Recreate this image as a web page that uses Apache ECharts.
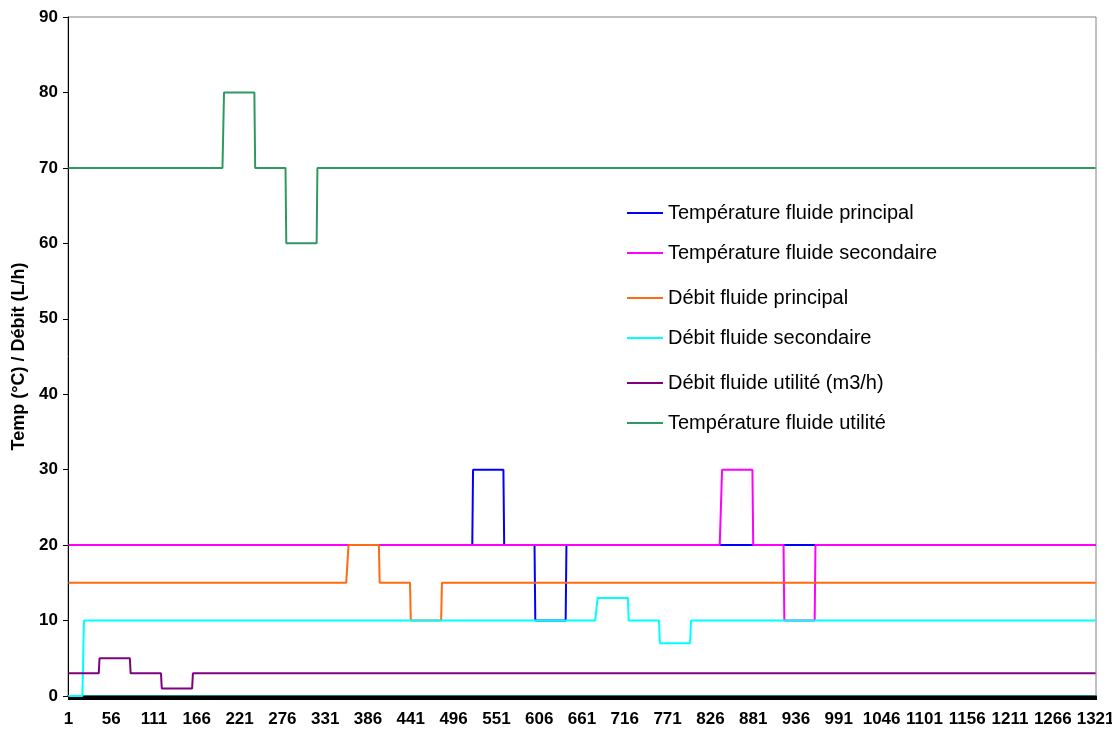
<!DOCTYPE html>
<html>
<head>
<meta charset="utf-8">
<script src="https://cdn.jsdelivr.net/npm/echarts@6/dist/echarts.min.js"></script>
<style>
html,body{margin:0;padding:0;background:#fff;}
#chart{width:1112px;height:731px;}
</style>
</head>
<body>
<div id="chart"></div>
<script>
// Number of categories on the x axis (1 .. 1321)
const categoryCount = 1321;
// Tick labels shown every 55 categories: 1, 56, 111, ... 1321

// Series values as runs: [first category, value] (value holds until next run)
const tempFluidePrincipal   = [[1,20],[521,30],[561,20],[601,10],[641,20]];
const tempFluideSecondaire  = [[1,20],[841,30],[881,20],[921,10],[961,20]];
const debitFluidePrincipal  = [[1,15],[361,20],[401,15],[441,10],[481,15]];
const debitFluideSecondaire = [[1,0],[21,10],[681,13],[721,10],[761,7],[801,10]];
const debitFluideUtilite    = [[1,3],[41,5],[81,3],[121,1],[161,3]];
const tempFluideUtilite     = [[1,70],[201,80],[241,70],[281,60],[321,70]];

const seriesNames = [
  'Température fluide principal',
  'Température fluide secondaire',
  'Débit fluide principal',
  'Débit fluide secondaire',
  'Débit fluide utilité (m3/h)',
  'Température fluide utilité'
];
const seriesRuns = [tempFluidePrincipal, tempFluideSecondaire, debitFluidePrincipal,
                    debitFluideSecondaire, debitFluideUtilite, tempFluideUtilite];
const seriesColors = ['#0000ff','#ff00ff','#ff6a13','#00ffff','#800080','#2e9a62'];
const legendTops = [198, 238, 283, 323, 368, 408];

const categories = [];
for (let i = 1; i <= categoryCount; i++) categories.push(String(i));

function expandRuns(runs) {
  const out = [];
  for (let i = 1; i <= categoryCount; i++) {
    let v = runs[0][1];
    for (const r of runs) { if (r[0] <= i) v = r[1]; }
    out.push(v);
  }
  return out;
}

const font = "'Liberation Sans', Arial, sans-serif";

const chart = echarts.init(document.getElementById('chart'), null, {renderer: 'canvas'});
chart.setOption({
  animation: false,
  backgroundColor: '#ffffff',
  grid: {left: 68, right: 16, top: 17, bottom: 35, show: true, borderColor: '#808080', borderWidth: 1,
         backgroundColor: 'transparent', outerBoundsMode: 'none', containLabel: false},
  legend: seriesNames.map((n, i) => ({
    data: [n],
    left: 622,
    top: legendTops[i],
    icon: 'rect',
    itemWidth: 36,
    itemHeight: 2,
    itemGap: 5,
    textStyle: {fontFamily: font, fontSize: 20, color: '#000'},
    selectedMode: false
  })),
  xAxis: {
    type: 'category',
    data: categories,
    boundaryGap: true,
    axisLine: {show: true, lineStyle: {color: '#1d7d7a', width: 2}},
    axisTick: {show: true, interval: 0, length: 4, lineStyle: {color: '#000', width: 1}},
    axisLabel: {interval: 54, color: '#000', fontFamily: font, fontWeight: 'bold', fontSize: 17, margin: 15, hideOverlap: false},
    splitLine: {show: false}
  },
  yAxis: {
    type: 'value',
    min: 0, max: 90, interval: 10,
    name: 'Temp (°C) / Débit (L/h)',
    nameLocation: 'middle',
    nameGap: 40,
    nameTextStyle: {fontFamily: font, fontWeight: 'bold', fontSize: 18, color: '#000'},
    axisLine: {show: true, lineStyle: {color: '#000', width: 1}},
    axisTick: {show: true, length: 5, lineStyle: {color: '#000'}},
    axisLabel: {color: '#000', fontFamily: font, fontWeight: 'bold', fontSize: 17, margin: 10},
    splitLine: {show: false}
  },
  series: seriesNames.map((n, i) => ({
    name: n,
    type: 'line',
    data: expandRuns(seriesRuns[i]),
    symbol: 'none',
    color: seriesColors[i],
    lineStyle: {color: seriesColors[i], width: 2},
    emphasis: {disabled: true}
  }))
});
</script>
</body>
</html>
